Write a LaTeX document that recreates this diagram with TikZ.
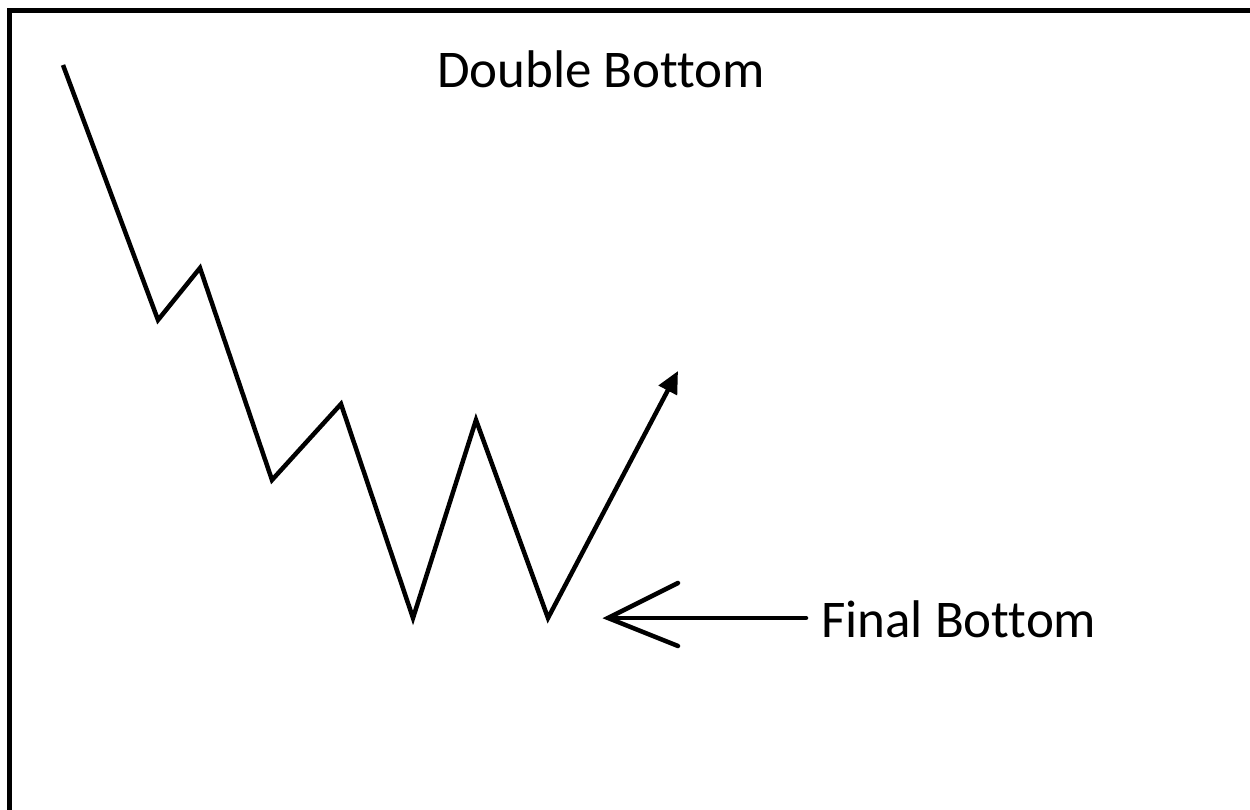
\documentclass[tikz,border=0pt]{standalone}
\usepackage{fontspec}
\setmainfont{Carlito}[Ligatures=NoCommon]
\usetikzlibrary{arrows.meta}
\begin{document}
\begin{tikzpicture}[x=1pt,y=-1pt,
  frameline/.style={line width=5pt},
  priceline/.style={line width=4.5pt,line join=miter,line cap=butt},
  label/.style={inner sep=0pt,font=\fontsize{53}{60}\selectfont}]
\useasboundingbox (0,0) rectangle (1250,810);
\fill[white] (0,0) rectangle (1250,810);
% frame (top and left only)
\draw[frameline] (9.5,810) -- (9.5,10.5) -- (1250,10.5);
% price path
\coordinate (p0) at (63,65);
\coordinate (p1) at (158,320);
\coordinate (p2) at (200,268);
\coordinate (p3) at (272,480);
\coordinate (p4) at (341,404);
\coordinate (p5) at (413,618);
\coordinate (p6) at (476,420);
\coordinate (p7) at (548,618);
\coordinate (p8) at (678,371);
\draw[priceline,-{Triangle[length=22pt,width=20pt]}]
  (p0) -- (p1) -- (p2) -- (p3) -- (p4) -- (p5) -- (p6) -- (p7) -- (p8);
% title
\node[label,anchor=base west] (title) at (437,88) {Double Bottom};
% final bottom label and arrow
\node[label,anchor=base west] (final) at (821,637) {Final Bottom};
\coordinate (tail) at (806,618);
\coordinate (tip) at (608,618);
\coordinate (armA) at (678,583);
\coordinate (armB) at (678,646);
\draw[priceline,line cap=round] (tail) -- (tip);
\draw[priceline,line cap=round] (armA) -- (tip) -- (armB);
\end{tikzpicture}
\end{document}
